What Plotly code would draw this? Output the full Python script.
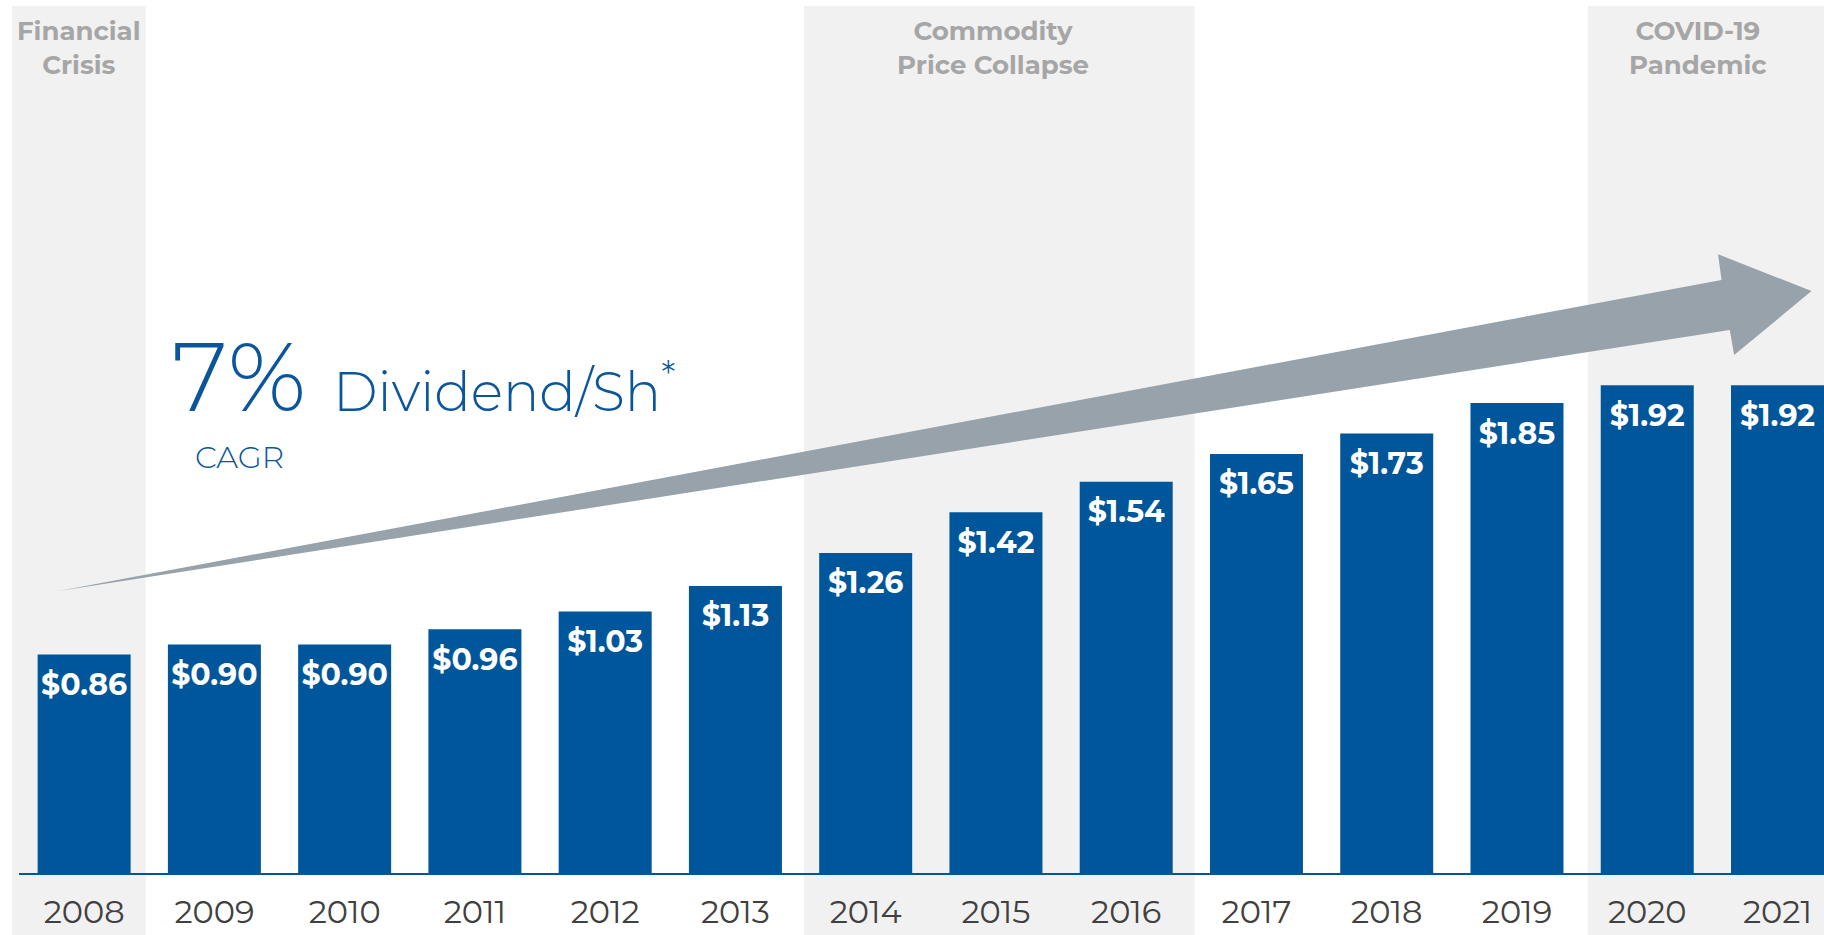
import plotly.graph_objects as go

# Annual dividend per share
years = ["2008", "2009", "2010", "2011", "2012", "2013", "2014",
         "2015", "2016", "2017", "2018", "2019", "2020", "2021"]
dividends = [0.86, 0.90, 0.90, 0.96, 1.03, 1.13, 1.26,
             1.42, 1.54, 1.65, 1.73, 1.85, 1.92, 1.92]

# Shaded market-stress periods (category index span) and their captions
periods = [
    ("Financial<br>Crisis", -0.554, 0.473, -0.04),
    ("Commodity<br>Price Collapse", 5.526, 8.526, 6.98),
    ("COVID-19<br>Pandemic", 11.544, 13.40, 12.39),
]

BLUE = "#00569a"
TEXT_BLUE = "#0a559c"
GRAY_TXT = "#a6a6a6"
FONT = "Montserrat, 'Open Sans', sans-serif"

W, H = 1824, 935
M_L, M_B = 19, 62
X_RANGE = [-0.5, 13.357]
Y_RANGE = [0, 3.437]
plot_h = H - M_B
px_per_dollar = plot_h / (Y_RANGE[1] - Y_RANGE[0])
label_drop = 33 / px_per_dollar   # value labels sit just inside the bar top


def xpaper(c):
    return (c - X_RANGE[0]) / (X_RANGE[1] - X_RANGE[0])


def ypaper_px(py):
    # pixel row (from top of figure) -> paper y
    return (plot_h - py) / plot_h


fig = go.Figure()

fig.add_trace(go.Bar(
    x=years, y=dividends,
    marker=dict(color=BLUE, line=dict(width=0)),
    hoverinfo="x+y",
))

fig.add_trace(go.Scatter(
    x=years, y=[v - label_drop for v in dividends],
    mode="text", text=[f"${v:.2f}" for v in dividends],
    textposition="middle center",
    textfont=dict(family=FONT, size=30, color="white", weight="bold"),
    hoverinfo="skip", cliponaxis=False,
))

# growth arrow (data coordinates: category index, dollars)
arrow_pts = [(-0.196, 1.110), (12.570, 2.335), (12.544, 2.436),
             (13.261, 2.291), (12.667, 2.039), (12.634, 2.138)]
path = "M " + " L ".join(f"{x},{y}" for x, y in arrow_pts) + " Z"
fig.add_shape(type="path", path=path, xref="x", yref="y",
              fillcolor="#97a2ab", line=dict(width=0), layer="below")

# translucent period bands
for label, c0, c1, cx in periods:
    fig.add_shape(type="rect", xref="paper", yref="paper",
                  x0=xpaper(c0), x1=min(xpaper(c1), 1.0),
                  y0=-M_B / plot_h, y1=ypaper_px(6),
                  fillcolor="rgba(0,0,0,0.055)", line=dict(width=0),
                  layer="below")
    fig.add_annotation(
        x=xpaper(cx), y=ypaper_px(13), xref="paper", yref="paper",
        text=f"<b>{label}</b>", showarrow=False,
        xanchor="center", yanchor="top", align="center",
        font=dict(family=FONT, size=26, color=GRAY_TXT),
    )

# headline text
fig.add_annotation(
    x=(170 - M_L) / (W - M_L), y=ypaper_px(376), xref="paper", yref="paper",
    text="7%", showarrow=False, xanchor="left", yanchor="middle",
    font=dict(family=FONT, size=96, color=TEXT_BLUE, weight=300),
)
fig.add_annotation(
    x=(331 - M_L) / (W - M_L), y=ypaper_px(388), xref="paper", yref="paper",
    text="Dividend/Sh<sup>*</sup>", showarrow=False, xanchor="left",
    yanchor="middle",
    font=dict(family=FONT, size=54, color=TEXT_BLUE, weight=300),
)
fig.add_annotation(
    x=(193 - M_L) / (W - M_L), y=ypaper_px(457), xref="paper", yref="paper",
    text="CAGR", showarrow=False, xanchor="left", yanchor="middle",
    font=dict(family=FONT, size=31, color=TEXT_BLUE, weight=300),
)

fig.update_layout(
    width=W, height=H,
    margin=dict(l=M_L, r=0, t=0, b=M_B, pad=0),
    paper_bgcolor="white", plot_bgcolor="rgba(0,0,0,0)",
    bargap=0.286, showlegend=False,
    xaxis=dict(
        type="category", range=X_RANGE, showgrid=False, zeroline=False,
        showline=True, linecolor=BLUE, linewidth=2, ticks="",
        tickfont=dict(family=FONT, size=32, color="#404040"),
        ticklabelstandoff=10, fixedrange=True,
    ),
    yaxis=dict(range=Y_RANGE, visible=False, fixedrange=True),
)

fig.write_html("out.html")
